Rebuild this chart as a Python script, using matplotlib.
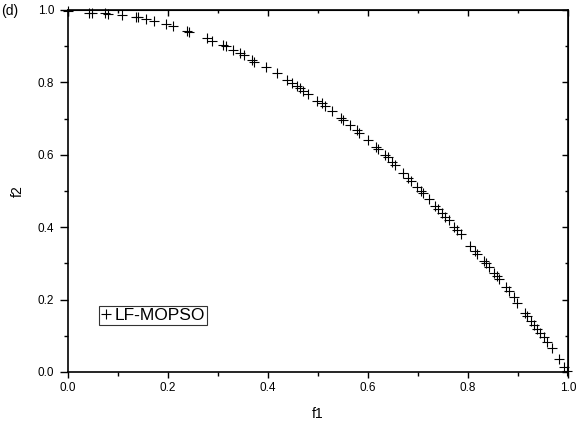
import matplotlib
matplotlib.use("Agg")
import matplotlib.pyplot as plt
from matplotlib.ticker import MultipleLocator

plt.rcParams['font.family'] = ['Liberation Sans', 'DejaVu Sans']

f1 = [0.000, 0.042, 0.048, 0.074, 0.080, 0.108, 0.136, 0.140, 0.156, 0.172,
      0.196, 0.210, 0.238, 0.242, 0.278, 0.288, 0.310, 0.316, 0.330, 0.344,
      0.352, 0.368, 0.372, 0.396, 0.418, 0.438, 0.448, 0.458, 0.464, 0.470,
      0.480, 0.498, 0.508, 0.514, 0.528, 0.546, 0.550, 0.564, 0.578, 0.582,
      0.600, 0.616, 0.620, 0.634, 0.640, 0.648, 0.654, 0.670, 0.680, 0.686,
      0.698, 0.706, 0.710, 0.722, 0.734, 0.740, 0.748, 0.754, 0.762, 0.772,
      0.778, 0.786, 0.804, 0.814, 0.818, 0.832, 0.836, 0.842, 0.852, 0.858,
      0.862, 0.876, 0.882, 0.892, 0.898, 0.914, 0.918, 0.926, 0.932, 0.938,
      0.944, 0.952, 0.958, 0.968, 0.982, 0.992, 0.998]
f2 = [0.997, 0.992, 0.992, 0.992, 0.989, 0.986, 0.981, 0.981, 0.975, 0.970,
      0.961, 0.956, 0.942, 0.939, 0.923, 0.914, 0.903, 0.901, 0.890, 0.881,
      0.876, 0.862, 0.856, 0.843, 0.826, 0.807, 0.798, 0.790, 0.785, 0.776,
      0.768, 0.749, 0.743, 0.735, 0.721, 0.702, 0.696, 0.682, 0.669, 0.660,
      0.641, 0.622, 0.616, 0.599, 0.594, 0.580, 0.572, 0.550, 0.536, 0.528,
      0.511, 0.500, 0.494, 0.478, 0.459, 0.450, 0.439, 0.428, 0.420, 0.401,
      0.392, 0.381, 0.348, 0.334, 0.326, 0.307, 0.301, 0.290, 0.273, 0.265,
      0.257, 0.235, 0.224, 0.207, 0.191, 0.163, 0.155, 0.141, 0.130, 0.119,
      0.108, 0.097, 0.083, 0.066, 0.036, 0.014, 0.003]
series_label = "LF-MOPSO"
panel_label = "(d)"

fig = plt.figure(figsize=(5.79, 4.29), dpi=100)
ax = fig.add_axes([68/579, 1-372/429, 500/579, 362/429])
ax.plot(f1, f2, linestyle='none', marker='+', markersize=6.5, markeredgewidth=0.8,
        color='black', label=series_label, clip_on=False)
ax.set_xlim(0, 1.0)
ax.set_ylim(0, 1.0)
ax.xaxis.set_major_locator(MultipleLocator(0.2))
ax.xaxis.set_minor_locator(MultipleLocator(0.1))
ax.yaxis.set_major_locator(MultipleLocator(0.2))
ax.yaxis.set_minor_locator(MultipleLocator(0.1))
ax.set_xticklabels([f"{v:.1f}" for v in ax.get_xticks()])
ax.set_yticklabels([f"{v:.1f}" for v in ax.get_yticks()])
ax.tick_params(axis='x', which='major', direction='out', length=4.5, width=1.0, labelsize=8.5, pad=3)
ax.tick_params(axis='y', which='major', direction='out', length=5.5, width=1.0, labelsize=8.5, pad=4.5)
ax.tick_params(which='minor', direction='out', length=3, width=1.0)
for s in ax.spines.values():
    s.set_linewidth(1.2)

# inward ticks on top and right
top = ax.secondary_xaxis('top')
top.xaxis.set_major_locator(MultipleLocator(0.2))
top.xaxis.set_minor_locator(MultipleLocator(0.1))
top.tick_params(which='major', direction='in', length=4.5, width=1.0, labeltop=False)
top.tick_params(which='minor', direction='in', length=2.5, width=1.0)
right = ax.secondary_yaxis('right')
right.yaxis.set_major_locator(MultipleLocator(0.2))
right.yaxis.set_minor_locator(MultipleLocator(0.1))
right.tick_params(which='major', direction='in', length=4.5, width=1.0, labelright=False)
right.tick_params(which='minor', direction='in', length=2.5, width=1.0)

ax.set_xlabel("f1", fontsize=10, labelpad=9)
ax.set_ylabel("f2", fontsize=10, labelpad=9)
fig.text(1/579, 1-11/429, panel_label, fontsize=10, ha='left', va='center')

leg = ax.legend(loc='lower left', bbox_to_anchor=(31/500, (372-325)/362),
                frameon=True, fancybox=False, edgecolor='black', fontsize=12.5,
                handlelength=0.6, handletextpad=0.2, borderpad=0.1,
                borderaxespad=0, markerscale=1.1)
leg.get_frame().set_linewidth(0.8)
for t in leg.get_texts():
    t.set_text(" ".join([]) or series_label)

fig.savefig("out.png", dpi=100)
